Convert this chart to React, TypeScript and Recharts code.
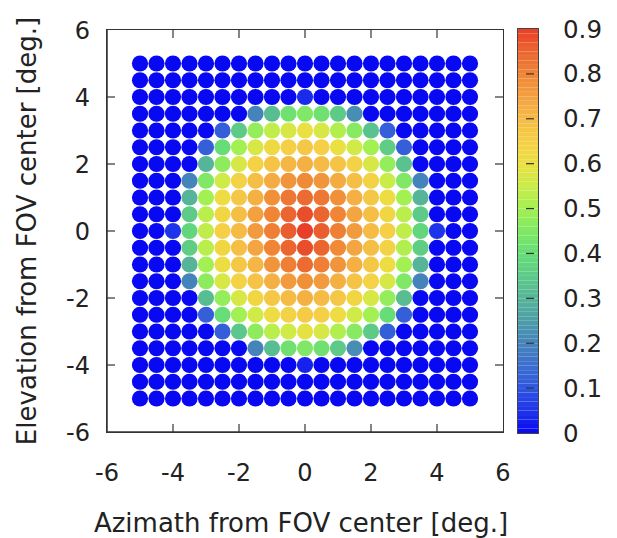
import React from "react"
import { ScatterChart, Scatter, XAxis, YAxis, BarChart, Bar } from "recharts"

// grid of beam positions (deg.)
const azimuth = [-5, -4.5, -4, -3.5, -3, -2.5, -2, -1.5, -1, -0.5, 0, 0.5, 1, 1.5, 2, 2.5, 3, 3.5, 4, 4.5, 5]
const elevation = [5, 4.5, 4, 3.5, 3, 2.5, 2, 1.5, 1, 0.5, 0, -0.5, -1, -1.5, -2, -2.5, -3, -3.5, -4, -4.5, -5]

// one row per elevation, one value per azimuth
const response = [
  [0, 0, 0, 0, 0, 0, 0, 0, 0, 0, 0, 0, 0, 0, 0, 0, 0, 0, 0, 0, 0],
  [0, 0, 0, 0, 0, 0, 0, 0, 0, 0, 0, 0, 0, 0, 0, 0, 0, 0, 0, 0, 0],
  [0, 0, 0, 0, 0, 0, 0, 0, 0, 0, 0.04, 0, 0, 0, 0, 0, 0, 0, 0, 0, 0],
  [0, 0, 0, 0, 0, 0, 0, 0.2, 0.32, 0.42, 0.45, 0.42, 0.35, 0.22, 0, 0, 0, 0, 0, 0, 0],
  [0, 0, 0, 0, 0, 0.12, 0.35, 0.48, 0.54, 0.57, 0.6, 0.57, 0.52, 0.46, 0.33, 0.12, 0, 0, 0, 0, 0],
  [0, 0, 0, 0, 0.12, 0.4, 0.5, 0.57, 0.62, 0.65, 0.67, 0.65, 0.6, 0.56, 0.5, 0.36, 0.12, 0, 0, 0, 0],
  [0, 0, 0, 0, 0.3, 0.47, 0.57, 0.64, 0.68, 0.71, 0.72, 0.7, 0.68, 0.64, 0.57, 0.48, 0.33, 0, 0, 0, 0],
  [0, 0, 0, 0.2, 0.45, 0.56, 0.64, 0.69, 0.73, 0.77, 0.79, 0.77, 0.73, 0.69, 0.64, 0.55, 0.45, 0.2, 0, 0, 0],
  [0, 0, 0, 0.3, 0.5, 0.61, 0.67, 0.72, 0.78, 0.82, 0.84, 0.82, 0.78, 0.72, 0.67, 0.61, 0.5, 0.3, 0, 0, 0],
  [0, 0, 0, 0.35, 0.53, 0.63, 0.69, 0.75, 0.8, 0.85, 0.88, 0.85, 0.8, 0.74, 0.69, 0.63, 0.53, 0.35, 0, 0, 0],
  [0, 0, 0.05, 0.38, 0.54, 0.65, 0.7, 0.76, 0.81, 0.86, 0.9, 0.86, 0.81, 0.76, 0.7, 0.65, 0.54, 0.38, 0.05, 0, 0],
  [0, 0, 0, 0.36, 0.53, 0.63, 0.69, 0.74, 0.8, 0.85, 0.88, 0.85, 0.79, 0.74, 0.69, 0.64, 0.52, 0.36, 0, 0, 0],
  [0, 0, 0, 0.3, 0.5, 0.61, 0.67, 0.71, 0.77, 0.81, 0.84, 0.81, 0.77, 0.72, 0.67, 0.61, 0.5, 0.3, 0, 0, 0],
  [0, 0, 0, 0.2, 0.47, 0.57, 0.64, 0.68, 0.72, 0.76, 0.78, 0.76, 0.72, 0.68, 0.64, 0.57, 0.45, 0.2, 0, 0, 0],
  [0, 0, 0, 0, 0.32, 0.48, 0.57, 0.63, 0.67, 0.7, 0.72, 0.7, 0.67, 0.63, 0.57, 0.48, 0.32, 0, 0, 0, 0],
  [0, 0, 0, 0, 0.12, 0.4, 0.5, 0.56, 0.61, 0.64, 0.66, 0.65, 0.61, 0.56, 0.5, 0.4, 0.12, 0, 0, 0, 0],
  [0, 0, 0, 0, 0, 0.12, 0.34, 0.47, 0.53, 0.56, 0.59, 0.57, 0.52, 0.46, 0.35, 0.12, 0, 0, 0, 0, 0],
  [0, 0, 0, 0, 0, 0, 0, 0.2, 0.32, 0.42, 0.45, 0.42, 0.35, 0.22, 0, 0, 0, 0, 0, 0, 0],
  [0, 0, 0, 0, 0, 0, 0, 0, 0, 0, 0.03, 0, 0, 0, 0, 0, 0, 0, 0, 0, 0],
  [0, 0, 0, 0, 0, 0, 0, 0, 0, 0, 0, 0, 0, 0, 0, 0, 0, 0, 0, 0, 0],
  [0, 0, 0, 0, 0, 0, 0, 0, 0, 0, 0, 0, 0, 0, 0, 0, 0, 0, 0, 0, 0],
]

const axisTicks = [-6, -4, -2, 0, 2, 4, 6]
const scaleTicks = [0, 0.1, 0.2, 0.3, 0.4, 0.5, 0.6, 0.7, 0.8, 0.9]
const scaleStops: [number, string][] = [
  [0, "#0808f2"], [0.05, "#1e34ea"], [0.1, "#2f55e0"], [0.15, "#3c6fcd"],
  [0.2, "#4584bb"], [0.25, "#4d9ca8"], [0.3, "#56b598"], [0.35, "#5dca88"],
  [0.4, "#66dd76"], [0.45, "#80e866"], [0.5, "#a2f052"], [0.55, "#c9ec48"],
  [0.6, "#ebe041"], [0.65, "#f5cf46"], [0.7, "#f5bb45"], [0.75, "#f2a040"],
  [0.8, "#ef8535"], [0.85, "#eb6530"], [0.9, "#e83f28"],
]

const FONT = "DejaVu Sans, Liberation Sans, Arial, sans-serif"
const INK = "#333333"
const LW = 1.5

// main chart layout
const CHART_W = 510, CHART_H = 538
const M_TOP = 30, M_RIGHT = 7, Y_AXIS_W = 107, X_AXIS_H = 106
const PLOT_W = CHART_W - M_RIGHT - Y_AXIS_W
const PLOT_H = CHART_H - M_TOP - X_AXIS_H
// colour bar layout
const BAR_X = 508, BAR_CHART_W = 109, BAR_TOP = 29, BAR_BOTTOM = 105, BAR_LEFT = 10, BAR_AXIS_W = 79
const BAR_W = BAR_CHART_W - BAR_LEFT - BAR_AXIS_W
const BAR_H = CHART_H - BAR_TOP - BAR_BOTTOM

function hex(c: string) {
  return [1, 3, 5].map((i) => parseInt(c.slice(i, i + 2), 16))
}

function colorOf(v: number) {
  if (v <= scaleStops[0][0]) return scaleStops[0][1]
  for (let k = 1; k < scaleStops.length; k++) {
    const [v1, c1] = scaleStops[k]
    if (v <= v1) {
      const [v0, c0] = scaleStops[k - 1]
      const t = (v - v0) / (v1 - v0)
      const a = hex(c0), b = hex(c1)
      const m = a.map((x, i) => Math.round(x + (b[i] - x) * t))
      return `rgb(${m[0]},${m[1]},${m[2]})`
    }
  }
  return scaleStops[scaleStops.length - 1][1]
}

const points = elevation.flatMap((y, j) => azimuth.map((x, i) => ({ x, y, v: response[j][i] })))

// colour bar as a stack of thin bands
const bands = Array.from({ length: 90 }, (_, k) => k)
const barRow = [Object.fromEntries([["name", "c"], ...bands.map((k) => [`b${k}`, 0.01])])]

const Dot = (p: any) => <circle cx={p.cx} cy={p.cy} r={8.1} fill={colorOf(p.payload.v)} />

const isEdge = (v: number) => v === axisTicks[0] || v === axisTicks[axisTicks.length - 1]

// bottom labels, with inward ticks on the bottom and the mirrored top edge
const BottomTick = (p: any) => {
  const v = p.payload.value
  const top = p.y - PLOT_H
  return (
    <g>
      {!isEdge(v) && <line x1={p.x} y1={p.y} x2={p.x} y2={p.y - 8} stroke={INK} strokeWidth={1.2} />}
      {!isEdge(v) && <line x1={p.x} y1={top} x2={p.x} y2={top + 8} stroke={INK} strokeWidth={1.2} />}
      <text x={p.x} y={p.y + 49} textAnchor="middle" fontSize={24} fontFamily={FONT} fill="#222">
        {v}
      </text>
    </g>
  )
}

// left labels, with inward ticks on the left and the mirrored right edge
const LeftTick = (p: any) => {
  const v = p.payload.value
  const right = p.x + PLOT_W
  return (
    <g>
      {!isEdge(v) && <line x1={p.x} y1={p.y} x2={p.x + 8} y2={p.y} stroke={INK} strokeWidth={1.2} />}
      {!isEdge(v) && <line x1={right} y1={p.y} x2={right - 8} y2={p.y} stroke={INK} strokeWidth={1.2} />}
      <text x={p.x - 17} y={p.y + 8.5} textAnchor="end" fontSize={24} fontFamily={FONT} fill="#222">
        {v}
      </text>
    </g>
  )
}

const ScaleTick = (p: any) => {
  const v = p.payload.value
  return (
    <g>
      {v > 0 && v < 0.9 && <line x1={p.x - 12} y1={p.y} x2={p.x - 4} y2={p.y} stroke="#333" strokeWidth={1.2} />}
      <text x={p.x + 25} y={p.y + 8.5} textAnchor="start" fontSize={24.5} fontFamily={FONT} fill="#222">
        {v}
      </text>
    </g>
  )
}

const layer: React.CSSProperties = { position: "absolute", top: 0 }

// outline drawn around a plot box, centred on its edges
const outline = (left: number, top: number, w: number, h: number, lw: number, color: string): React.CSSProperties => ({
  position: "absolute",
  left: left - lw / 2,
  top: top - lw / 2,
  width: w + lw,
  height: h + lw,
  border: `${lw}px solid ${color}`,
  boxSizing: "border-box",
  pointerEvents: "none",
})

export default function App() {
  return (
    <div style={{ position: "fixed", left: 0, top: 0, width: 617, height: 538, background: "#fff" }}>
      <div style={{ ...layer, left: 0 }}>
        <ScatterChart width={CHART_W} height={CHART_H} margin={{ top: M_TOP, right: M_RIGHT, bottom: 0, left: 0 }}>
          <XAxis
            type="number"
            dataKey="x"
            domain={[-6, 6]}
            ticks={axisTicks}
            allowDataOverflow
            height={X_AXIS_H}
            tickSize={0}
            tickMargin={0}
            tickLine={false}
            axisLine={{ stroke: INK, strokeWidth: LW }}
            tick={<BottomTick />}
            label={{
              value: "Azimath from FOV center [deg.]",
              position: "insideBottom",
              offset: 6,
              dx: -4,
              fontSize: 26,
              fontFamily: FONT,
              fill: "#222",
            }}
          />
          <YAxis
            type="number"
            dataKey="y"
            domain={[-6, 6]}
            ticks={axisTicks}
            allowDataOverflow
            width={Y_AXIS_W}
            tickSize={0}
            tickMargin={0}
            tickLine={false}
            axisLine={{ stroke: INK, strokeWidth: LW }}
            tick={<LeftTick />}
            label={{
              value: "Elevation from FOV center [deg.]",
              angle: -90,
              position: "insideLeft",
              offset: 27,
              fontSize: 26,
              fontFamily: FONT,
              fill: "#222",
              style: { textAnchor: "middle" },
            }}
          />
          <Scatter data={points} shape={<Dot />} isAnimationActive={false} />
        </ScatterChart>
      </div>
      <div style={outline(Y_AXIS_W, M_TOP, PLOT_W, PLOT_H, LW, INK)} />
      <div style={{ ...layer, left: BAR_X }}>
        <BarChart
          width={BAR_CHART_W}
          height={CHART_H}
          data={barRow}
          margin={{ top: BAR_TOP, right: 0, bottom: BAR_BOTTOM, left: BAR_LEFT }}
          barCategoryGap={0}
        >
          <XAxis dataKey="name" hide />
          <YAxis
            orientation="right"
            type="number"
            domain={[0, 0.9]}
            ticks={scaleTicks}
            allowDataOverflow
            width={BAR_AXIS_W}
            tickSize={0}
            tickMargin={0}
            tickLine={false}
            axisLine={false}
            tick={<ScaleTick />}
          />
          {bands.map((k) => (
            <Bar key={k} dataKey={`b${k}`} stackId="c" fill={colorOf((k + 0.5) / 100)} isAnimationActive={false} />
          ))}
        </BarChart>
      </div>
      <div style={outline(BAR_X + BAR_LEFT, BAR_TOP, BAR_W, BAR_H, 1.2, "#444")} />
    </div>
  )
}
